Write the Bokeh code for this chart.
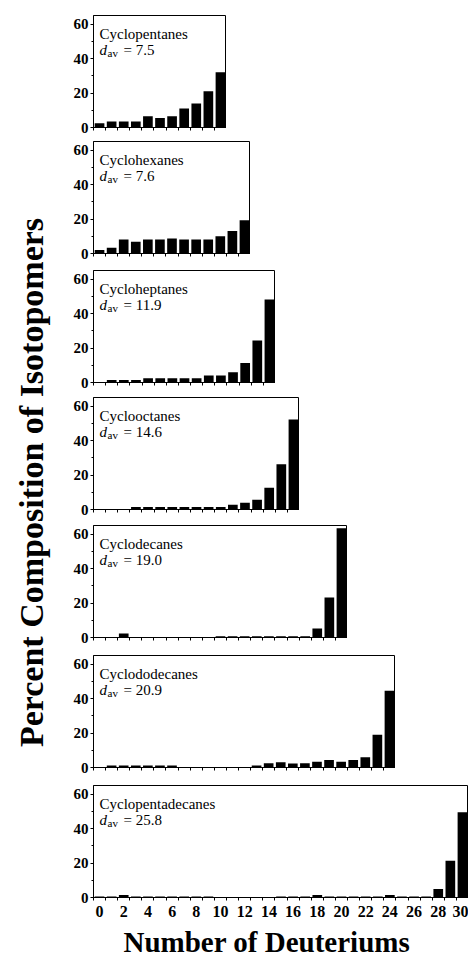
from bokeh.plotting import figure
from bokeh.layouts import row, column
from bokeh.models import FixedTicker, Label, Range1d, Title
from bokeh.embed import file_html
from bokeh.resources import INLINE

# ---- data (percent composition per number of deuteriums, d0..dmax) ----
names = ["Cyclopentanes", "Cyclohexanes", "Cycloheptanes", "Cyclooctanes",
         "Cyclodecanes", "Cyclododecanes", "Cyclopentadecanes"]
d_av = ["7.5", "7.6", "11.9", "14.6", "19.0", "20.9", "25.8"]
max_d = [10, 12, 14, 16, 20, 24, 30]

cyclopentanes = [2.5, 3.5, 3.5, 3.5, 6.5, 5.5, 6.5, 11.0, 14.0, 21.0, 32.0]
cyclohexanes = [2.0, 3.3, 8.1, 6.8, 8.1, 8.1, 8.7, 8.1, 8.1, 8.1, 10.0, 13.0, 19.3]
cycloheptanes = [0.3, 1.5, 1.5, 1.5, 2.5, 2.5, 2.5, 2.5, 2.5, 4.0, 4.0, 6.0, 11.3, 24.4, 48.2]
cyclooctanes = [0.0, 0.0, 0.0, 1.5, 1.5, 1.5, 1.5, 1.5, 1.5, 1.5, 1.5, 2.7, 3.9, 5.6,
                12.6, 26.2, 52.2]
cyclodecanes = [0.0, 0.0, 2.3, 0.0, 0.0, 0.0, 0.0, 0.0, 0.0, 0.0, 0.7, 0.7, 0.7, 0.7,
                0.7, 0.7, 0.7, 0.7, 5.2, 23.2, 63.4]
cyclododecanes = [0.3, 1.2, 1.2, 1.2, 1.2, 1.2, 1.2, 0.0, 0.0, 0.0, 0.0, 0.0, 0.0, 1.2,
                  2.5, 3.1, 2.3, 2.5, 3.3, 4.4, 3.3, 4.4, 6.0, 19.0, 44.5]
cyclopentadecanes = [0.6, 0.6, 1.5, 0.6, 0.6, 0.6, 0.6, 0.6, 0.6, 0.6, 0.0, 0.0, 0.0,
                     0.0, 0.0, 0.6, 0.6, 0.6, 1.5, 0.6, 0.6, 0.6, 0.6, 0.6, 1.5, 0.6,
                     0.6, 0.6, 5.0, 21.4, 49.5]
series = [cyclopentanes, cyclohexanes, cycloheptanes, cyclooctanes,
          cyclodecanes, cyclododecanes, cyclopentadecanes]

y_ticks = [0, 20, 40, 60]
y_minor = [10, 30, 50]
x_tick_labels = list(range(0, 31, 2))
x_title = "Number of Deuteriums"
y_title = "Percent Composition of Isotopomers"

# ---- layout constants ----
FONT = "Liberation Serif"
U = 12.1          # px per deuterium
FH = 112          # frame height
TOP = 7
frame_tops = [15, 141, 270, 397, 525, 655, 785]
TOTAL_H = 962
LEFT_W = 58

panels = []
for i, (name, dav, n, vals) in enumerate(zip(names, d_av, max_d, series)):
    last = i == len(names) - 1
    top = frame_tops[0] if i == 0 else TOP
    if last:
        bb = 0
    else:
        bb = frame_tops[i + 1] - frame_tops[i] - TOP - FH
    fw = int(round((n + 1) * U))
    p = figure(frame_width=fw, frame_height=FH,
               min_border_left=35, min_border_right=0,
               min_border_top=top, min_border_bottom=bb,
               x_range=Range1d(-0.5, n + 0.5), y_range=Range1d(0, 65),
               toolbar_location=None, output_backend="svg")
    p.vbar(x=list(range(n + 1)), top=vals, width=0.8,
           fill_color="black", line_color=None)

    p.xgrid.visible = False
    p.ygrid.visible = False
    p.outline_line_color = "black"
    p.outline_line_alpha = 1.0
    p.outline_line_width = 1
    p.background_fill_color = "white"
    p.border_fill_color = "white"

    ya = p.yaxis[0]
    ya.ticker = FixedTicker(ticks=y_ticks, minor_ticks=y_minor)
    ya.major_tick_out = 3
    ya.major_tick_in = 0
    ya.minor_tick_out = 2
    ya.minor_tick_in = 0
    ya.major_label_standoff = 2
    ya.major_label_text_font = FONT
    ya.major_label_text_font_style = "bold"
    ya.major_label_text_font_size = "15px"
    ya.major_label_text_color = "black"
    ya.axis_line_color = "black"
    ya.major_tick_line_color = "black"
    ya.minor_tick_line_color = "black"

    xa = p.xaxis[0]
    half = [k + 0.5 for k in range(-1, n + 1)]
    xa.ticker = FixedTicker(ticks=(x_tick_labels if last else []), minor_ticks=half)
    xa.major_tick_out = 0
    xa.major_tick_in = 0
    xa.minor_tick_out = 3
    xa.minor_tick_in = 0
    xa.major_label_standoff = 5
    xa.major_label_text_font = FONT
    xa.major_label_text_font_style = "bold"
    xa.major_label_text_font_size = "16px"
    xa.major_label_text_color = "black"
    xa.axis_line_color = "black"
    xa.minor_tick_line_color = "black"

    common = dict(x=-0.5, y=65, text_font=FONT, text_color="black",
                  text_baseline="alphabetic", text_align="left")
    p.add_layout(Label(x_offset=6, y_offset=-18, text=name,
                       text_font_size="15px", **common))
    p.add_layout(Label(x_offset=6, y_offset=-34, text="d",
                       text_font_size="15px", text_font_style="italic", **common))
    p.add_layout(Label(x_offset=14, y_offset=-37, text="av",
                       text_font_size="11px", **common))
    p.add_layout(Label(x_offset=30, y_offset=-34, text="= " + dav,
                       text_font_size="15px", **common))

    if last:
        p.add_layout(Title(text=x_title, align="left", offset=30, standoff=9,
                           text_font=FONT, text_font_style="bold",
                           text_font_size="29px", text_color="black"), "below")
    panels.append(p)

lab = figure(width=LEFT_W, height=TOTAL_H, x_range=Range1d(0, LEFT_W),
             y_range=Range1d(0, TOTAL_H),
             x_axis_type=None, y_axis_type=None, min_border=0,
             toolbar_location=None, output_backend="svg")
lab.outline_line_color = None
lab.add_layout(Label(x=31, y=TOTAL_H - 482, angle=90, angle_units="deg",
                     text=y_title,
                     text_font=FONT, text_font_style="bold", text_font_size="34px",
                     text_color="black", text_align="center", text_baseline="middle"))

layout = row(lab, column(*panels, spacing=0), spacing=0)

with open("out.html", "w") as f:
    f.write(file_html(layout, INLINE))
